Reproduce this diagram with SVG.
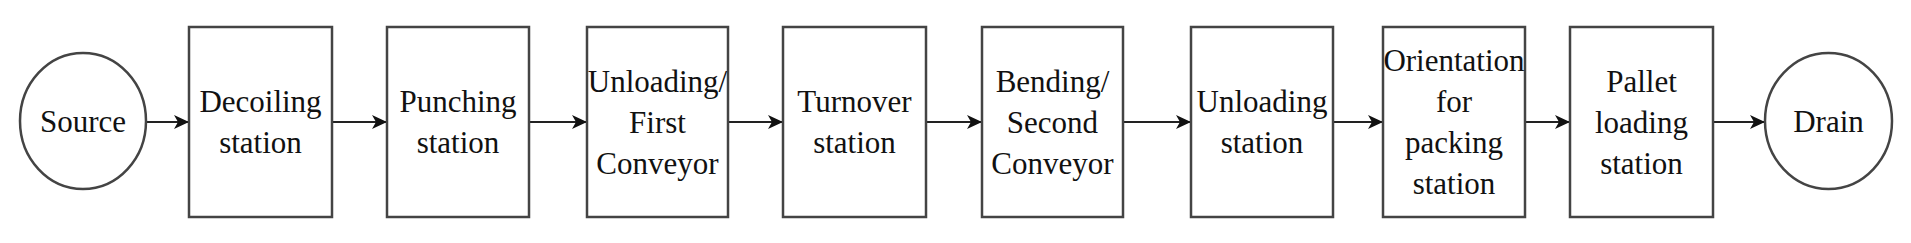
<svg xmlns="http://www.w3.org/2000/svg" width="1911" height="243" viewBox="0 0 1911 243">
<defs>
<style>
.n{fill:#fff;stroke:#444;stroke-width:2.5}
.t{font-size:31px;fill:#111;text-anchor:middle}
.c{fill:none;stroke:#222;stroke-width:2.2}
</style>
<marker id="ah" markerUnits="userSpaceOnUse" markerWidth="16" markerHeight="14" refX="15" refY="7" orient="auto">
<path d="M0,0 L15,7 L0,14 L4,7 Z" fill="#111"/>
</marker>
</defs>
<rect width="1911" height="243" fill="#fff"/>
<g id="connectors">
<line class="c" x1="147" y1="122" x2="189" y2="122" marker-end="url(#ah)"/>
<line class="c" x1="332" y1="122" x2="387" y2="122" marker-end="url(#ah)"/>
<line class="c" x1="529" y1="122" x2="587" y2="122" marker-end="url(#ah)"/>
<line class="c" x1="728" y1="122" x2="783" y2="122" marker-end="url(#ah)"/>
<line class="c" x1="926" y1="122" x2="982" y2="122" marker-end="url(#ah)"/>
<line class="c" x1="1123" y1="122" x2="1191" y2="122" marker-end="url(#ah)"/>
<line class="c" x1="1333" y1="122" x2="1383" y2="122" marker-end="url(#ah)"/>
<line class="c" x1="1525" y1="122" x2="1570" y2="122" marker-end="url(#ah)"/>
<line class="c" x1="1713" y1="122" x2="1765" y2="122" marker-end="url(#ah)"/>
</g>
<g font-family="'Times New Roman', 'Liberation Serif', serif">
<g id="source">
<ellipse class="n" cx="83" cy="121" rx="63" ry="68"/>
<text class="t" x="83" y="132">Source</text>
</g>
<g id="decoiling">
<rect class="n" x="189" y="27" width="143" height="190"/>
<text class="t" x="260.5" y="112">Decoiling</text>
<text class="t" x="260.5" y="153">station</text>
</g>
<g id="punching">
<rect class="n" x="387" y="27" width="142" height="190"/>
<text class="t" x="458" y="112">Punching</text>
<text class="t" x="458" y="153">station</text>
</g>
<g id="unloading-first">
<rect class="n" x="587" y="27" width="141" height="190"/>
<text class="t" x="657.5" y="92">Unloading/</text>
<text class="t" x="657.5" y="133">First</text>
<text class="t" x="657.5" y="174">Conveyor</text>
</g>
<g id="turnover">
<rect class="n" x="783" y="27" width="143" height="190"/>
<text class="t" x="854.5" y="112">Turnover</text>
<text class="t" x="854.5" y="153">station</text>
</g>
<g id="bending">
<rect class="n" x="982" y="27" width="141" height="190"/>
<text class="t" x="1052.5" y="92">Bending/</text>
<text class="t" x="1052.5" y="133">Second</text>
<text class="t" x="1052.5" y="174">Conveyor</text>
</g>
<g id="unloading">
<rect class="n" x="1191" y="27" width="142" height="190"/>
<text class="t" x="1262" y="112">Unloading</text>
<text class="t" x="1262" y="153">station</text>
</g>
<g id="orientation">
<rect class="n" x="1383" y="27" width="142" height="190"/>
<text class="t" x="1454" y="71">Orientation</text>
<text class="t" x="1454" y="112">for</text>
<text class="t" x="1454" y="153">packing</text>
<text class="t" x="1454" y="194">station</text>
</g>
<g id="pallet">
<rect class="n" x="1570" y="27" width="143" height="190"/>
<text class="t" x="1641.5" y="92">Pallet</text>
<text class="t" x="1641.5" y="133">loading</text>
<text class="t" x="1641.5" y="174">station</text>
</g>
<g id="drain">
<ellipse class="n" cx="1828.5" cy="121" rx="63.5" ry="68"/>
<text class="t" x="1828.5" y="132">Drain</text>
</g>
</g>
</svg>
